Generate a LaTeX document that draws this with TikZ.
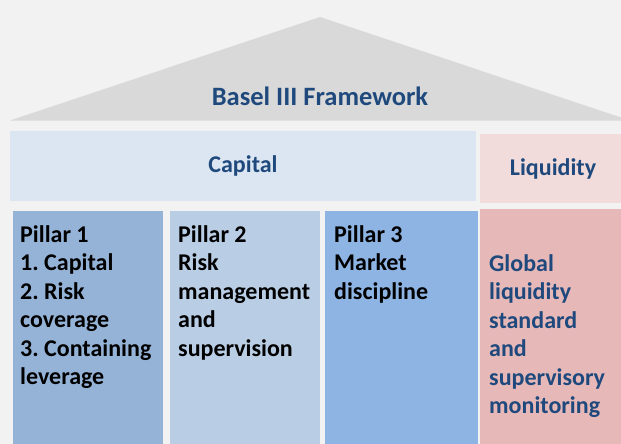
\documentclass[tikz,border=0pt]{standalone}
\usepackage{fontspec}
\setmainfont{Carlito}
\frenchspacing
\definecolor{PageGray}{RGB}{242,242,242}
\definecolor{RoofGray}{RGB}{217,217,217}
\definecolor{CapitalBlue}{RGB}{220,230,242}
\definecolor{LiquidRose}{RGB}{242,220,219}
\definecolor{PillarOne}{RGB}{149,179,215}
\definecolor{PillarTwo}{RGB}{185,205,229}
\definecolor{PillarThree}{RGB}{142,180,227}
\definecolor{PillarRose}{RGB}{230,185,184}
\definecolor{TitleBlue}{RGB}{31,73,125}
\usetikzlibrary{positioning, calc}

\begin{document}
\begin{tikzpicture}[x=1pt, y=-1pt,
    block/.style={anchor=north west, inner sep=0pt, outer sep=0pt},
    headtext/.style={font=\bfseries\fontsize{24}{28}\selectfont, text=TitleBlue},
    pillartext/.style={anchor=north west, inner sep=0pt, align=left,
      font=\bfseries\fontsize{24}{28.5}\selectfont}]
  \clip (0,0) rectangle (621,444);
  \fill[PageGray] (0,0) rectangle (621,444);
  % roof
  \fill[RoofGray] (10,120.5) -- (320,17) -- (630,120.5) -- cycle;
  \node[headtext, font=\bfseries\fontsize{26.5}{30}\selectfont] (title) at (320,96) {Basel III Framework};
  % header bars
  \node[block, fill=CapitalBlue, minimum width=466, minimum height=70] (capital) at (10,131) {};
  \node[headtext] (capitaltext) at (capital.center) {Capital};
  \node[block, fill=LiquidRose, minimum width=146, minimum height=69] (liquidity) at (480,134) {};
  \node[headtext] (liquiditytext) at (liquidity.center) {Liquidity};
  % pillars
  \node[block, fill=PillarOne, minimum width=150, minimum height=240] (p1) at (13,211) {};
  \node[block, fill=PillarTwo, minimum width=150, minimum height=240] (p2) at (170,211) {};
  \node[block, fill=PillarThree, minimum width=153, minimum height=240] (p3) at (325,211) {};
  \node[block, fill=PillarRose, minimum width=146, minimum height=242] (p4) at (480,209) {};
  \node[pillartext] (p1text) at ($(p1.north west)+(7,14)$)
    {Pillar 1\\1. Capital\\2. Risk\\coverage\\3. Containing\\leverage};
  \node[pillartext] (p2text) at ($(p2.north west)+(8,14)$)
    {Pillar 2\\Risk\\management\\and\\supervision};
  \node[pillartext] (p3text) at ($(p3.north west)+(9,14)$)
    {Pillar 3\\Market\\discipline};
  \node[pillartext, text=TitleBlue] (p4text) at ($(p4.north west)+(9,45)$)
    {Global\\liquidity\\standard\\and\\supervisory\\monitoring};
\end{tikzpicture}
\end{document}
